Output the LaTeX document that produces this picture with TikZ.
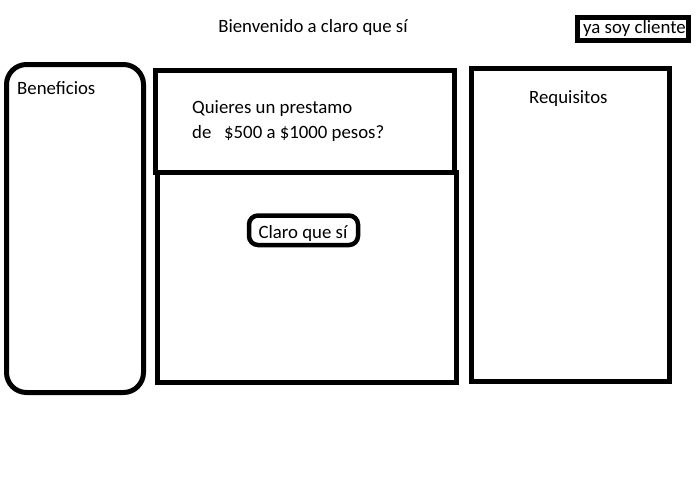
\documentclass[tikz,border=0pt]{standalone}
\usepackage{fontspec}
\setmainfont{Carlito}
\begin{document}
\begin{tikzpicture}[x=1pt,y=-1pt,
  box/.style={draw=black,line width=5pt},
  lbl/.style={inner sep=0pt,font=\fontsize{18.8}{22}\selectfont,anchor=west}]
\useasboundingbox (0,0) rectangle (700,477);
\fill[white] (0,0) rectangle (700,477);
\node[lbl,anchor=center] (title) at (313,27) {Bienvenido a claro que sí};
\draw[box] (577,17) rectangle (688,40);
\node[lbl] (cliente) at (583,28) {ya soy cliente};
\draw[box,rounded corners=20pt] (6.5,64.5) rectangle (143.5,392.5);
\node[lbl] (benef) at (17,88) {Beneficios};
\draw[box] (155.5,70.5) rectangle (454,172.5);
\draw[box] (157.5,172.5) rectangle (456,382.5);
\node[lbl] (q1) at (192,109) {Quieres un prestamo};
\node[lbl] (q2) at (192,133) {de\ \ \ \$500 a \$1000 pesos?};
\draw[box] (471.5,68.5) rectangle (669.5,381.5);
\node[lbl] (req) at (529,99) {Requisitos};
\draw[box,line width=4.5pt,rounded corners=9pt] (249,215.5) rectangle (358,245);
\node[lbl,anchor=center] (claro) at (303,233) {Claro que sí};
\end{tikzpicture}
\end{document}
